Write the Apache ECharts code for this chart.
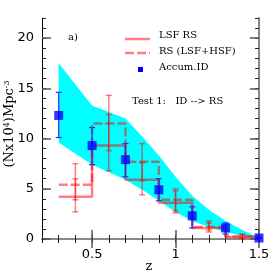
<!DOCTYPE html>
<html><head><meta charset="utf-8">
<script src="https://cdn.jsdelivr.net/npm/echarts@6/dist/echarts.min.js"></script>
<style>html,body{margin:0;padding:0;background:#fff}#c{width:274px;height:274px}</style>
</head><body><div id="c"></div>
<script>
// ---- data ----
const binEdges = [0.3, 0.5, 0.7, 0.9, 1.1, 1.3, 1.5];
const binCenters = [0.4, 0.6, 0.8, 1.0, 1.2, 1.4];
const lsfRS = [4.2, 9.3, 5.9, 3.6, 1.1, 0.2];
const lsfRSLo = [2.7, 6.8, 4.4, 2.6, 0.7, 0.05];
const lsfRSHi = [6.0, 12.4, 7.6, 4.8, 1.6, 0.4];
const rsAll = [5.4, 11.5, 7.7, 3.9, 1.2, 0.25];
const rsAllLo = [3.9, 8.8, 5.8, 2.8, 0.9, 0.1];
const rsAllHi = [7.5, 14.3, 9.5, 5.0, 1.8, 0.5];
const idZ = [0.3, 0.5, 0.7, 0.9, 1.1, 1.3, 1.5];
const idVal = [12.3, 9.3, 7.9, 4.9, 2.3, 1.1, 0.1];
const idLo = [10.1, 7.4, 6.2, 3.8, 1.1, 0.5, 0.1];
const idHi = [14.6, 11.1, 9.5, 6.0, 3.2, 1.6, 0.1];
const bandZ = [0.3, 0.5, 0.7, 0.8, 0.9, 1.0, 1.1, 1.2, 1.3, 1.4, 1.5];
const bandUpper = [17.5, 13.3, 12.0, 10.2, 8.3, 6.2, 4.3, 2.9, 1.8, 0.9, 0.1];
const bandLower = [9.6, 7.4, 5.9, 4.9, 3.8, 2.7, 1.8, 1.2, 0.7, 0.3, 0.0];
const xMajorTicks = [0.5, 1.0, 1.5];
const yMajorTicks = [0, 5, 10, 15, 20];

// ---- helpers ----
const RED = 'rgba(255,0,0,0.5)';
function stepData(vals) {
  return binEdges.map((e, i) => [e, vals[Math.min(i, vals.length - 1)]]);
}
function errRender(color, width, cap) {
  return function (params, api) {
    const x = api.value(0), lo = api.value(1), hi = api.value(2);
    const p1 = api.coord([x, hi]), p2 = api.coord([x, lo]);
    const st = { stroke: color, lineWidth: width };
    return { type: 'group', children: [
      { type: 'line', shape: { x1: p1[0], y1: p1[1], x2: p2[0], y2: p2[1] }, style: st },
      { type: 'line', shape: { x1: p1[0] - cap, y1: p1[1], x2: p1[0] + cap, y2: p1[1] }, style: st },
      { type: 'line', shape: { x1: p2[0] - cap, y1: p2[1], x2: p2[0] + cap, y2: p2[1] }, style: st }
    ]};
  };
}
const tickFont = { color: '#000', fontSize: 13, fontFamily: 'DejaVu Sans' };
function xAx(pos, major, lineColor, lineWidth) {
  return {
    type: 'value', min: 0.2, max: 1.5, position: pos,
    interval: major ? undefined : 0.1,
    axisLine: { show: !major, lineStyle: { color: lineColor, width: lineWidth } },
    axisTick: major ? { inside: true, length: 9, customValues: xMajorTicks, lineStyle: { color: '#555', width: 1.5 } }
                    : { inside: true, length: 4, lineStyle: { color: '#222', width: 1 } },
    axisLabel: (pos === 'bottom' && !major) ? Object.assign({ customValues: xMajorTicks, margin: 9 }, tickFont) : { show: false },
    splitLine: { show: false }
  };
}
function yAx(pos, major, lineColor, lineWidth) {
  return {
    type: 'value', min: 0, max: 22, position: pos,
    interval: major ? undefined : 1,
    axisLine: { show: !major, lineStyle: { color: lineColor, width: lineWidth } },
    axisTick: major ? { inside: true, length: 9, customValues: yMajorTicks, lineStyle: { color: '#555', width: 1.5 } }
                    : { inside: true, length: 4, lineStyle: { color: '#222', width: 1 } },
    axisLabel: (pos === 'left' && !major) ? Object.assign({ customValues: yMajorTicks, margin: 8 }, tickFont) : { show: false },
    splitLine: { show: false }
  };
}

const chart = echarts.init(document.getElementById('c'), null, { renderer: 'canvas' });
chart.setOption({
  animation: false,
  backgroundColor: '#fff',
  grid: { left: 42, right: 15, top: 18, bottom: 35 },
  xAxis: [xAx('bottom', false, '#000', 1), xAx('bottom', true), xAx('top', false, '#888', 2), xAx('top', true)],
  yAxis: [yAx('left', false, '#000', 1), yAx('left', true), yAx('right', false, '#888', 2), yAx('right', true)],
  series: [
    { type: 'custom', z: 1, data: [[0.3, 0]], encode: { x: 0, y: 1 },
      renderItem: function (params, api) {
        const pts = bandZ.map((z, i) => api.coord([z, bandUpper[i]]));
        for (let i = bandZ.length - 1; i >= 0; i--) pts.push(api.coord([bandZ[i], bandLower[i]]));
        return { type: 'polygon', shape: { points: pts }, style: { fill: '#00ffff' } };
      } },
    { name: 'LSF RS', type: 'line', z: 2, step: 'end', data: stepData(lsfRS), symbol: 'none',
      lineStyle: { color: RED, width: 2.5 } },
    { name: 'RS (LSF+HSF)', type: 'line', z: 2, step: 'end', data: stepData(rsAll), symbol: 'none',
      lineStyle: { color: RED, width: 2.5, type: [9, 3] } },
    { type: 'custom', z: 3, data: binCenters.map((c, i) => [c, lsfRSLo[i], lsfRSHi[i]]), encode: { x: 0, y: [1, 2] },
      renderItem: errRender(RED, 1.5, 3) },
    { type: 'custom', z: 3, data: binCenters.map((c, i) => [c, rsAllLo[i], rsAllHi[i]]), encode: { x: 0, y: [1, 2] },
      renderItem: errRender(RED, 1.5, 3) },
    { type: 'custom', z: 4, data: idZ.map((c, i) => [c, idLo[i], idHi[i]]), encode: { x: 0, y: [1, 2] },
      renderItem: errRender('#2030ff', 1.2, 3), clip: false },
    { name: 'Accum.ID', type: 'scatter', z: 5, data: idZ.map((z, i) => [z, idVal[i]]), symbol: 'rect', symbolSize: 9,
      itemStyle: { color: '#0000ff' }, clip: false }
  ],
  graphic: [
    { type: 'line', shape: { x1: 125, y1: 39, x2: 150, y2: 39 }, style: { stroke: RED, lineWidth: 2.5 }, z: 10 },
    { type: 'line', shape: { x1: 125, y1: 53, x2: 150, y2: 53 }, style: { stroke: RED, lineWidth: 2.5, lineDash: [9, 3] }, z: 10 },
    { type: 'rect', shape: { x: 138, y: 67, width: 5, height: 5 }, style: { fill: '#0000ff' }, z: 10 },
    { type: 'text', x: 159, y: 35, style: { text: 'LSF RS', font: '10px "DejaVu Serif"', fill: '#000', verticalAlign: 'middle' }, z: 10 },
    { type: 'text', x: 159, y: 51, style: { text: 'RS (LSF+HSF)', font: '10px "DejaVu Serif"', fill: '#000', verticalAlign: 'middle' }, z: 10 },
    { type: 'text', x: 159, y: 67, style: { text: 'Accum.ID', font: '10px "DejaVu Serif"', fill: '#000', verticalAlign: 'middle' }, z: 10 },
    { type: 'text', x: 132, y: 101, style: { text: 'Test 1:   ID --> RS', font: '10px "DejaVu Serif"', fill: '#000', verticalAlign: 'middle' }, z: 10 },
    { type: 'text', x: 68, y: 37, style: { text: 'a)', font: '10px "DejaVu Serif"', fill: '#000', verticalAlign: 'middle' }, z: 10 },
    { type: 'text', x: 149, y: 267, style: { text: 'z', font: '13px "DejaVu Serif"', fill: '#000', align: 'center', verticalAlign: 'middle' }, z: 10 },
    { type: 'text', x: 10, y: 124, rotation: Math.PI / 2, z: 10,
      style: { text: '(Nx10{s|4})Mpc{s|-3}', font: '13px "DejaVu Serif"', fill: '#000', align: 'center', verticalAlign: 'middle',
        rich: { s: { fontSize: 8, fontFamily: 'DejaVu Serif', verticalAlign: 'top', padding: [0, 0, 6, 0] } } } }
  ]
});
</script>
</body></html>
